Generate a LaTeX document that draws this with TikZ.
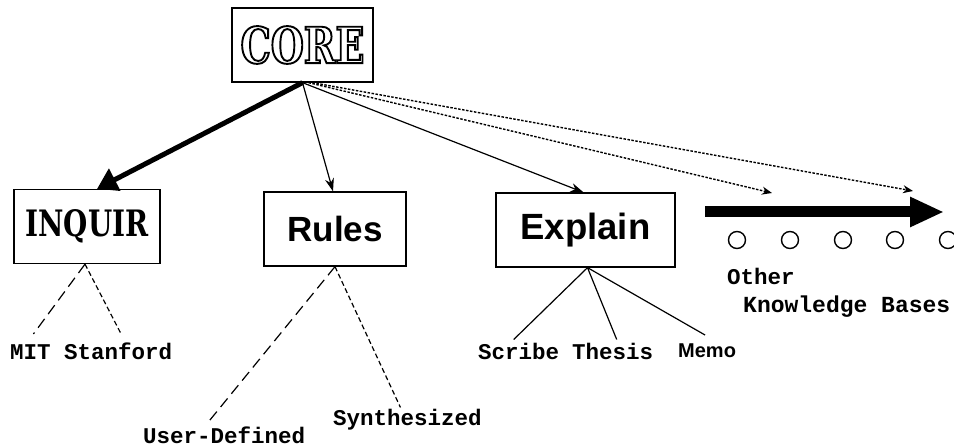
\documentclass[tikz,border=0pt]{standalone}
\usepackage{fontspec}
\usepackage{graphicx}
\usetikzlibrary{arrows.meta}
\newfontfamily\clarfont{DejaVu Serif}
\newfontfamily\corefont{DejaVu Serif Bold}[FakeStretch=0.76]
\newfontfamily\hsans{Liberation Sans}
\newfontfamily\lblfont{Liberation Mono}
\newcommand{\outlinetext}[1]{\special{pdf:literal direct 1 Tr 1.9 w}#1\special{pdf:literal direct 0 Tr}}
\tikzset{
  box/.style={draw, line width=1.3pt, inner sep=0pt, minimum height=74pt},
  lbl/.style={font=\lblfont\bfseries\fontsize{22.5}{22.5}\selectfont, inner sep=0pt, anchor=base west},
  longdash/.style={line width=1.2pt, dash pattern=on 11pt off 6pt},
  shortdash/.style={line width=1.2pt, dash pattern=on 5pt off 3pt},
  thinarrow/.style={line width=1.2pt, -{Stealth[length=13pt,width=9pt]}},
  fatarrow/.style={line width=5pt, -{Triangle[length=20pt,width=24pt]}},
  dotarrow/.style={line width=1.4pt, dash pattern=on 2.5pt off 1.5pt, -{Stealth[length=10pt,width=8pt]}},
  kbarrow/.style={line width=11pt, -{Triangle[length=34pt,width=28pt]}},
  kbcircle/.style={draw, circle, line width=1.4pt, minimum size=17pt, inner sep=0pt},
  subline/.style={line width=1.2pt}
}
\begin{document}
\begin{tikzpicture}[x=1pt,y=-1pt]
\useasboundingbox[fill=white] (0,0) rectangle (954,446);
% boxes
\node[box, minimum width=141pt] (core) at (302.5,45)
  {\corefont\fontsize{50}{50}\selectfont\outlinetext{CORE}};
\node[box, minimum width=146pt] (inq) at (87,226.5)
  {\resizebox{123pt}{27pt}{\clarfont\bfseries\fontsize{37}{37}\selectfont INQUIR}};
\node[box, minimum width=142pt] (rules) at (335,229)
  {\hsans\bfseries\fontsize{35}{35}\selectfont Rules};
\node[box, minimum width=179pt] (explain) at (585.5,230)
  {\hsans\bfseries\fontsize{36.5}{36.5}\selectfont Explain};
% labels
\node[lbl] (mit) at (10,360) {MIT};
\node[lbl] (stan) at (64,360) {Stanford};
\node[lbl] (user) at (143,443) {User-Defined};
\node[lbl] (synth) at (333,426) {Synthesized};
\node[lbl] (scribe) at (478,360) {Scribe};
\node[lbl] (thesis) at (572,360) {Thesis};
\node[inner sep=0pt, anchor=base west, font=\hsans\bfseries\fontsize{20}{20}\selectfont] (memo) at (678,358) {Memo};
\node[lbl] (other) at (727,285) {Other};
\node[lbl, font=\lblfont\bfseries\fontsize{23}{23}\selectfont] (kb) at (743,313) {Knowledge Bases};
% circles
\foreach \i/\x in {1/737,2/790,3/843,4/895,5/948}
  \node[kbcircle] (c\i) at (\x,240) {};
% arrows from CORE
\draw[fatarrow] (core.south) -- ([xshift=10pt]inq.north);
\draw[thinarrow] (core.south) -- ([xshift=-2pt]rules.north);
\draw[thinarrow] (core.south) -- ([xshift=-2pt]explain.north);
\coordinate (kb1) at (772,193);
\coordinate (kb2) at (913,191);
\draw[dotarrow] ([xshift=6pt]core.south) -- (kb1);
\draw[dotarrow] ([xshift=10pt]core.south) -- (kb2);
\coordinate (kbs) at (705,212);
\coordinate (kbe) at (944,212);
\draw[kbarrow] (kbs) -- (kbe);
% sub-trees
\draw[longdash] ([xshift=-2pt]inq.south) -- ([shift={(3pt,11pt)}]mit.north);
\draw[shortdash] ([xshift=-2pt]inq.south) -- ([shift={(3pt,9pt)}]stan.north);
\draw[longdash] (rules.south) -- ([shift={(-16pt,4pt)}]user.north);
\draw[shortdash] (rules.south) -- ([shift={(-7pt,2pt)}]synth.north);
\draw[subline] ([xshift=2pt]explain.south) -- ([shift={(-5pt,4pt)}]scribe.north);
\draw[subline] ([xshift=2pt]explain.south) -- ([shift={(4pt,4pt)}]thesis.north);
\draw[subline] ([xshift=2pt]explain.south) -- ([shift={(-2pt,9pt)}]memo.north);
\end{tikzpicture}
\end{document}
